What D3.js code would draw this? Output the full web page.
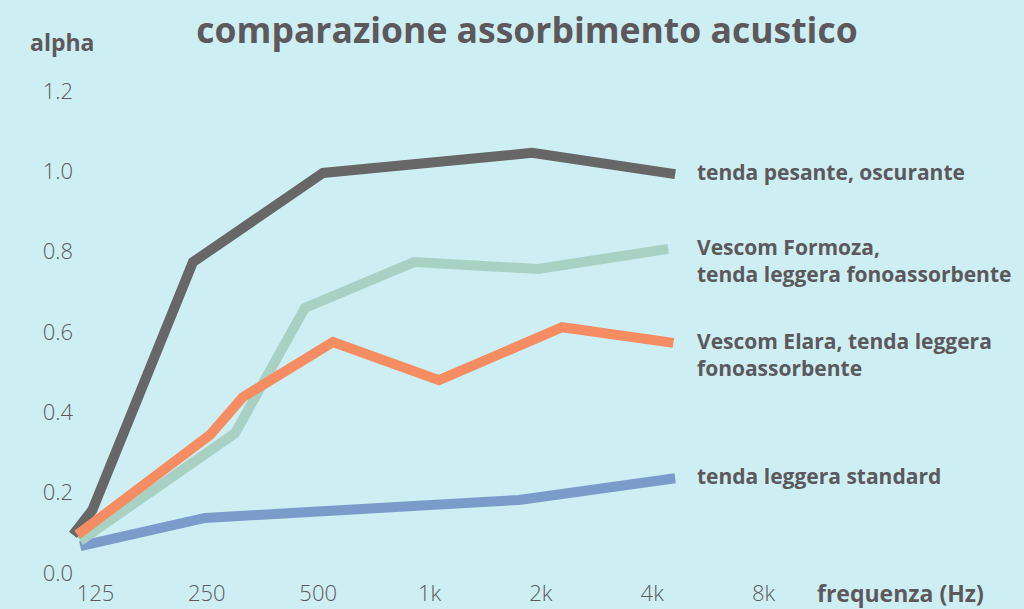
<!DOCTYPE html>
<html>
<head>
<meta charset="utf-8">
<script src="https://cdn.jsdelivr.net/npm/d3@7"></script>
<style>
  html, body { margin: 0; padding: 0; background: #cdeff3; }
  #chart { width: 1024px; height: 609px; }
</style>
</head>
<body>
<div id="chart"></div>
<script>
// frequency values (Hz) and absorption coefficients
const freqPesante = [109, 123, 230, 517, 1900, 4630];
const alphaPesante = [0.095, 0.157, 0.774, 0.996, 1.046, 0.993];

const freqFormoza = [114, 299, 462, 911, 1973, 4434];
const alphaFormoza = [0.08, 0.348, 0.66, 0.774, 0.757, 0.807];

const freqElara = [112, 256, 314, 550, 1064, 2291, 4580];
const alphaElara = [0.095, 0.344, 0.438, 0.575, 0.48, 0.612, 0.573];

const freqStandard = [114, 248, 1751, 4630];
const alphaStandard = [0.067, 0.137, 0.182, 0.236];

const xTickValues = [125, 250, 500, 1000, 2000, 4000, 8000];
const xTickLabels = ["125", "250", "500", "1k", "2k", "4k", "8k"];
const yTickValues = [0, 0.2, 0.4, 0.6, 0.8, 1.0, 1.2];

const seriesNames = [
    ["tenda leggera standard"],
    ["Vescom Formoza,", "tenda leggera fonoassorbente"],
    ["tenda pesante, oscurante"],
    ["Vescom Elara, tenda leggera", "fonoassorbente"]
];

function renderChart(selector = "#chart") {
    const container = d3.select(selector);
    container.html("");

    const width = 1024;
    const height = 609;
    const textColor = "#5c585b";
    const font = "'Open Sans', Lato, sans-serif";

    const series = [
        { name: seriesNames[0], color: "#7b9ccb", values: freqStandard.map((f, i) => ({ f, a: alphaStandard[i] })) },
        { name: seriesNames[1], color: "#a8d1c4", values: freqFormoza.map((f, i) => ({ f, a: alphaFormoza[i] })) },
        { name: seriesNames[2], color: "#676767", values: freqPesante.map((f, i) => ({ f, a: alphaPesante[i] })) },
        { name: seriesNames[3], color: "#f68d62", values: freqElara.map((f, i) => ({ f, a: alphaElara[i] })) }
    ];

    const svg = container.append("svg")
        .attr("width", width)
        .attr("height", height)
        .style("display", "block")
        .style("font-family", font);

    svg.append("rect")
        .attr("width", width)
        .attr("height", height)
        .attr("fill", "#cdeff3");

    const x = d3.scaleLog()
        .domain([125, 8000])
        .range([95, 763]);

    const y = d3.scaleLinear()
        .domain([0, 1.2])
        .range([573, 91]);

    // title
    svg.append("text")
        .attr("x", 527)
        .attr("y", 43)
        .attr("text-anchor", "middle")
        .attr("fill", textColor)
        .style("font-size", "35.5px")
        .style("font-weight", 700)
        .text("comparazione assorbimento acustico");

    // y axis
    const yAxis = svg.append("g")
        .attr("transform", "translate(73,0)")
        .call(d3.axisLeft(y).tickValues(yTickValues).tickSize(0).tickPadding(0).tickFormat(d3.format(".1f")));
    yAxis.select(".domain").remove();
    yAxis.selectAll("text")
        .attr("fill", textColor)
        .style("font-family", font)
        .style("font-size", "22px")
        .style("font-weight", 300);

    svg.append("text")
        .attr("x", 30)
        .attr("y", 51)
        .attr("fill", textColor)
        .style("font-size", "23px")
        .style("font-weight", 700)
        .text("alpha");

    // x axis
    const xAxis = svg.append("g")
        .attr("transform", "translate(0,585)")
        .call(d3.axisBottom(x).tickValues(xTickValues).tickSize(0).tickPadding(0)
            .tickFormat((d, i) => xTickLabels[i]));
    xAxis.select(".domain").remove();
    xAxis.selectAll("text")
        .attr("fill", textColor)
        .style("font-family", font)
        .style("font-size", "22px")
        .style("font-weight", 300);

    svg.append("text")
        .attr("x", 817)
        .attr("y", 602)
        .attr("fill", textColor)
        .style("font-size", "23px")
        .style("font-weight", 700)
        .text("frequenza (Hz)");

    // lines
    const line = d3.line()
        .x(d => x(d.f))
        .y(d => y(d.a));

    svg.append("g").selectAll("path")
        .data(series)
        .join("path")
        .attr("fill", "none")
        .attr("stroke", d => d.color)
        .attr("stroke-width", 10)
        .attr("stroke-linejoin", "miter")
        .attr("stroke-linecap", "butt")
        .attr("d", d => line(d.values));

    // end labels
    const labels = svg.append("g");
    series.forEach(s => {
        const last = s.values[s.values.length - 1];
        const t = labels.append("text")
            .attr("x", 697)
            .attr("y", y(last.a) + 6)
            .attr("fill", textColor)
            .style("font-size", "21px")
            .style("font-weight", 700);
        s.name.forEach((ln, i) => {
            t.append("tspan")
                .attr("x", 697)
                .attr("dy", i === 0 ? 0 : 27)
                .text(ln);
        });
    });
}

renderChart();
</script>
</body>
</html>
